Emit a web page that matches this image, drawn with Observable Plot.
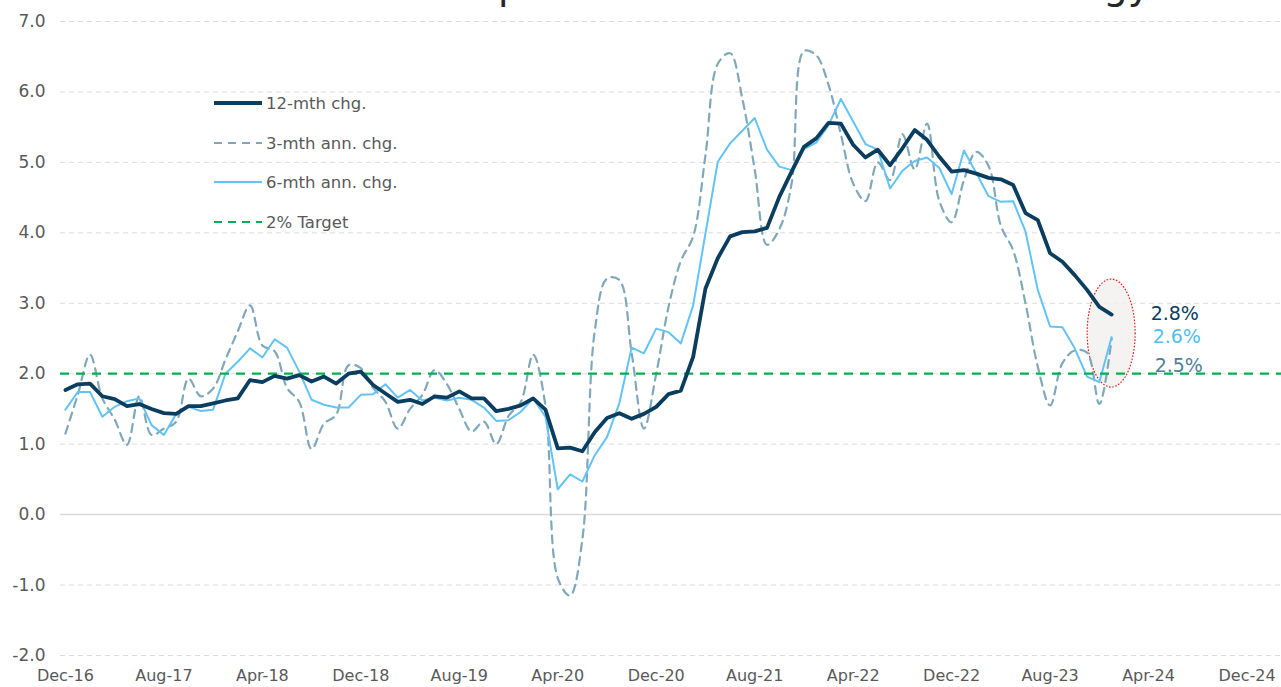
<!DOCTYPE html>
<html>
<head>
<meta charset="utf-8">
<script src="https://cdn.jsdelivr.net/npm/d3@7"></script>
<script src="https://cdn.jsdelivr.net/npm/@observablehq/plot@0.6"></script>
<style>
  html, body { margin: 0; padding: 0; background: #fff; overflow: hidden; }
  #wrap { position: relative; width: 1281px; height: 687px; font-family: "DejaVu Sans", sans-serif; overflow: hidden; }
  .leg { position: absolute; left: 213px; height: 20px; display: flex; align-items: center; font-size: 16.5px; color: #595959; white-space: nowrap; }
  .leg svg { margin-right: 3px; }
  #title { position: absolute; left: 0; top: 0; }
</style>
</head>
<body>
<div id="wrap"></div>
<script>
// ---- Data (monthly, Dec-16 .. Jan-24) ----
const chg12m = [1.77,1.85,1.86,1.68,1.64,1.54,1.57,1.50,1.44,1.43,1.54,1.54,1.58,1.62,1.65,1.91,1.88,1.97,1.93,1.98,
  1.89,1.96,1.86,2.00,2.03,1.84,1.72,1.60,1.63,1.57,1.68,1.66,1.75,1.65,1.65,1.47,1.50,1.55,1.65,1.49,
  0.94,0.95,0.90,1.17,1.37,1.44,1.36,1.43,1.53,1.71,1.76,2.24,3.21,3.64,3.95,4.01,4.02,4.07,4.51,4.87,
  5.22,5.34,5.56,5.55,5.25,5.07,5.18,4.96,5.20,5.46,5.32,5.08,4.87,4.89,4.84,4.78,4.76,4.68,4.28,4.18,
  3.71,3.59,3.40,3.19,2.95,2.84];
const chg3mAnn = [1.15,1.70,2.27,1.65,1.35,0.99,1.68,1.13,1.22,1.32,1.93,1.68,1.79,2.20,2.60,2.97,2.40,2.32,1.80,1.60,
  0.93,1.29,1.42,2.12,2.08,1.80,1.60,1.22,1.50,1.70,2.05,1.85,1.50,1.18,1.32,1.00,1.40,1.60,2.27,1.55,
  -0.90,-1.15,-0.35,2.60,3.35,3.33,2.30,1.22,2.00,2.95,3.60,3.95,5.10,6.40,6.55,5.90,4.90,3.83,4.05,4.70,
  6.58,6.52,6.10,5.40,4.70,4.45,5.00,4.75,5.40,4.90,5.55,4.45,4.15,4.75,5.15,4.95,4.10,3.75,3.00,2.10,
  1.55,2.15,2.33,2.30,1.57,2.50];
const chg6mAnn = [1.49,1.74,1.74,1.39,1.53,1.61,1.65,1.27,1.13,1.43,1.53,1.47,1.49,2.00,2.17,2.36,2.23,2.49,2.37,2.03,
  1.63,1.56,1.52,1.52,1.70,1.71,1.85,1.66,1.77,1.62,1.66,1.62,1.66,1.63,1.52,1.33,1.34,1.46,1.65,1.39,
  0.36,0.57,0.47,0.84,1.10,1.58,2.37,2.29,2.64,2.59,2.43,2.97,3.99,5.01,5.27,5.45,5.63,5.18,4.94,4.89,
  5.19,5.28,5.53,5.90,5.58,5.26,5.18,4.63,4.88,5.02,5.07,4.92,4.55,5.17,4.85,4.52,4.44,4.45,4.02,3.19,
  2.67,2.66,2.36,1.96,1.88,2.52];
const target = 2.0;
const xTickLabels = ["Dec-16","Aug-17","Apr-18","Dec-18","Aug-19","Apr-20","Dec-20","Aug-21","Apr-22","Dec-22","Aug-23","Apr-24","Dec-24"];
const yTicks = [-2,-1,0,1,2,3,4,5,6,7];
const seriesNames = ["12-mth chg.","3-mth ann. chg.","6-mth ann. chg.","2% Target"];
const endLabels = ["2.8%","2.6%","2.5%"];
const titleText = "US Core PCE price inflation ex food and energy";

const C_DARK = "#0b3d5f", C_LIGHT = "#62c4f4", C_DASH = "#7fa8bb", C_GREEN = "#00b050", C_LAB25 = "#4f8099";

const toRows = arr => arr.map((v, i) => ({i, v}));
const d12 = toRows(chg12m), d3m = toRows(chg3mAnn), d6m = toRows(chg6mAnn);
const last = chg12m.length - 1;
const xTicks = xTickLabels.map((_, k) => k * 8);

const chart = Plot.plot({
  width: 1281, height: 687,
  marginLeft: 60, marginRight: 0, marginTop: 21, marginBottom: 32,
  style: {fontFamily: "DejaVu Sans", background: "transparent"},
  x: {type: "linear", domain: [-0.4, 98.8], axis: null},
  y: {domain: [-2, 7], axis: null},
  marks: [
    Plot.ruleY(yTicks.filter(d => d !== 0), {stroke: "#dcdcdc", strokeWidth: 1, strokeDasharray: "5,4"}),
    Plot.ruleY([0], {stroke: "#d9d9d9", strokeWidth: 1.5}),
    Plot.line(d3m, {x: "i", y: "v", stroke: C_DASH, strokeWidth: 2.2, strokeDasharray: "8,6", curve: "catmull-rom"}),
    Plot.line(d6m, {x: "i", y: "v", stroke: C_LIGHT, strokeWidth: 2}),
    Plot.ruleY([target], {stroke: C_GREEN, strokeWidth: 2.2, strokeDasharray: "9,7"}),
    Plot.line(d12, {x: "i", y: "v", stroke: C_DARK, strokeWidth: 3.8, strokeLinejoin: "round"}),
    Plot.axisY({ticks: yTicks, tickFormat: d => d.toFixed(1), tickSize: 0, tickPadding: 15, fontSize: 17, color: "#595959", label: null}),
    Plot.axisX({ticks: xTicks, tickFormat: t => xTickLabels[t / 8], tickSize: 0, tickPadding: 14, fontSize: 16, color: "#595959", label: null}),
    Plot.text([{i: last, v: chg12m[last]}], {x: "i", y: "v", text: () => endLabels[0], fill: C_DARK, fontSize: 19, textAnchor: "start", dx: 39, dy: -1}),
    Plot.text([{i: last, v: chg6mAnn[last]}], {x: "i", y: "v", text: () => endLabels[1], fill: "#4fc0f5", fontSize: 19, textAnchor: "start", dx: 41, dy: 0}),
    Plot.text([{i: last, v: chg3mAnn[last]}], {x: "i", y: "v", text: () => endLabels[2], fill: C_LAB25, fontSize: 19, textAnchor: "start", dx: 43, dy: 27})
  ]
});

const wrap = document.getElementById("wrap");
chart.style.position = "absolute";
chart.style.left = "0px";
chart.style.top = "0px";
wrap.appendChild(chart);

// highlight ellipse around latest readings (behind the lines)
const svgNS = "http://www.w3.org/2000/svg";
const xs = chart.scale("x"), ys = chart.scale("y");
const ell = document.createElementNS(svgNS, "ellipse");
ell.setAttribute("cx", xs.apply(last));
ell.setAttribute("cy", ys.apply(2.57));
ell.setAttribute("rx", 24);
ell.setAttribute("ry", 54);
ell.setAttribute("fill", "#f3f1ee");
ell.setAttribute("fill-opacity", "0.85");
ell.setAttribute("stroke", "#e01f1f");
ell.setAttribute("stroke-width", "1.2");
ell.setAttribute("stroke-dasharray", "1.6,1.6");
const firstLine = chart.querySelector('g[aria-label="line"]');
chart.insertBefore(ell, firstLine);

// title: sits above the visible area, as in the reference (only descenders show)
const tsvg = document.createElementNS(svgNS, "svg");
tsvg.setAttribute("id", "title");
tsvg.setAttribute("width", "1281");
tsvg.setAttribute("height", "12");
tsvg.style.overflow = "hidden";
const t = document.createElementNS(svgNS, "text");
t.textContent = titleText;
t.setAttribute("font-family", "DejaVu Sans");
t.setAttribute("font-size", "30");
t.setAttribute("fill", "#262626");
t.setAttribute("dominant-baseline", "alphabetic");
t.setAttribute("y", "-1");
tsvg.appendChild(t);
wrap.appendChild(tsvg);
try {
  const ip = titleText.indexOf("p"), ig = titleText.lastIndexOf("g");
  let px = t.getStartPositionOfChar(ip).x, gx = t.getStartPositionOfChar(ig).x;
  const fs = 30 * (1104 - 498) / (gx - px);
  t.setAttribute("font-size", fs.toFixed(1));
  px = t.getStartPositionOfChar(ip).x;
  t.setAttribute("x", (498 - px).toFixed(1));
} catch (e) {}

// legend
const legendDefs = [
  {name: seriesNames[0], color: C_DARK, w: 4, dash: null, top: 93},
  {name: seriesNames[1], color: C_DASH, w: 2, dash: "8,6", top: 133},
  {name: seriesNames[2], color: C_LIGHT, w: 2, dash: null, top: 172},
  {name: seriesNames[3], color: C_GREEN, w: 2.2, dash: "8,6", top: 212}
];
for (const L of legendDefs) {
  const row = document.createElement("div");
  row.className = "leg";
  row.style.top = L.top + "px";
  row.innerHTML = `<svg width="50" height="10"><line x1="1" x2="49" y1="5" y2="5" stroke="${L.color}" stroke-width="${L.w}" ${L.dash ? `stroke-dasharray="${L.dash}"` : ""}/></svg><span>${L.name}</span>`;
  wrap.appendChild(row);
}
</script>
</body>
</html>
